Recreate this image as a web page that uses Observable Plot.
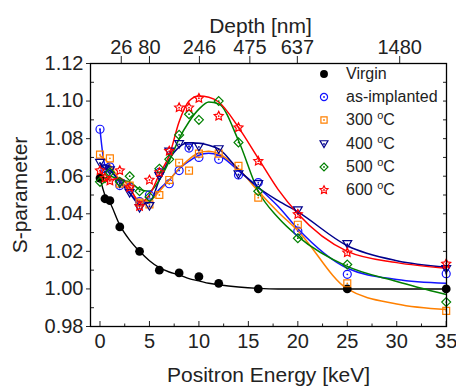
<!DOCTYPE html>
<html>
<head>
<meta charset="utf-8">
<script src="https://cdn.jsdelivr.net/npm/d3@7"></script>
<script src="https://cdn.jsdelivr.net/npm/@observablehq/plot@0.6"></script>
<style>
  body { margin: 0; background: #fff; }
  #wrap { position: relative; width: 456px; height: 390px; font-family: "Liberation Sans", Arial, sans-serif; }
  #legend { position: absolute; left: 316px; top: 62px; font-size: 16px; color: #222; }
  #legend .row { height: 23.3px; display: flex; align-items: center; white-space: nowrap; }
  #legend svg { width: 16px; height: 16px; margin-right: 14px; overflow: visible; }
  #legend sup { font-size: 11px; vertical-align: 6px; line-height: 0; }
  #chart svg [aria-label="x-axis label"] text, #chart svg [aria-label="y-axis label"] text { font-size: 21px; }
</style>
</head>
<body>
<div id="wrap"><div id="chart"></div><div id="legend"></div></div>
<script>
// ---- data ----
const virginEnergy = [0, 0.5, 1, 2, 4, 6, 8, 10, 12, 16, 25, 35];
const virginS      = [1.059, 1.048, 1.047, 1.033, 1.020, 1.010, 1.0085, 1.0065, 1.003, 1.000, 1.000, 1.000];

const energy        = [0, 0.5, 1, 2, 3, 4, 5, 6, 7, 8, 9, 10, 12, 14, 16, 20, 25, 35];
const asImplantedS  = [1.085, 1.064, 1.065, 1.055, 1.054, 1.0465, 1.050, 1.062, 1.056, 1.063, 1.075, 1.070, 1.069, 1.0607, 1.0566, 1.0308, 1.0078, 1.0081];
const t300S         = [1.0715, null, 1.0695, 1.056, 1.055, 1.046, 1.045, 1.050, 1.058, 1.0672, 1.063, 1.072, 1.072, 1.0655, 1.0486, 1.0342, 1.003, 0.9883];
const t400S         = [1.067, 1.064, 1.063, 1.056, 1.051, 1.043, 1.044, 1.060, 1.073, 1.077, 1.076, 1.0756, 1.0743, 1.061, 1.0557, 1.0418, 1.0238, 1.0105];
const t500S         = [1.057, 1.059, 1.062, 1.057, 1.060, 1.052, 1.049, 1.064, 1.069, 1.082, 1.093, 1.090, 1.100, 1.078, 1.052, 1.027, 1.013, 0.993];
const t600S         = [1.063, 1.059, 1.0575, 1.063, 1.054, 1.044, 1.058, 1.062, 1.0734, 1.0965, 1.0965, 1.1015, 1.092, 1.0859, 1.068, 1.0397, 1.0193, 1.0134];

// fitted curves as drawn in the reference
const fitEnergy      = [0, 0.5, 1, 2, 3, 4, 5, 6, 7, 8, 9, 10, 11, 12, 14, 16, 18, 20, 25, 30, 35];
const fitVirgin      = [1.059, 1.050, 1.046, 1.034, 1.026, 1.020, 1.015, 1.0113, 1.009, 1.0075, 1.0055, 1.0043, 1.003, 1.0022, 1.001, 1.0003, 1.0, 1.0, 1.0, 1.0, 1.0];
const fitAsImplanted = [1.085, 1.066, 1.064, 1.057, 1.051, 1.0465, 1.047, 1.053, 1.058, 1.064, 1.068, 1.0712, 1.0722, 1.0712, 1.063, 1.054, 1.044, 1.032, 1.011, 1.005, 1.003];
const fit300         = [1.071, 1.069, 1.066, 1.058, 1.053, 1.047, 1.047, 1.052, 1.058, 1.064, 1.069, 1.0725, 1.0733, 1.072, 1.064, 1.052, 1.041, 1.031, 1.0, 0.992, 0.989];
const fit400         = [1.067, 1.064, 1.063, 1.057, 1.051, 1.045, 1.046, 1.058, 1.069, 1.0755, 1.0778, 1.0775, 1.0765, 1.0745, 1.0635, 1.054, 1.047, 1.041, 1.023, 1.015, 1.0115];
const fit500         = [1.057, 1.059, 1.060, 1.058, 1.057, 1.053, 1.052, 1.058, 1.068, 1.080, 1.089, 1.0957, 1.0995, 1.0985, 1.079, 1.052, 1.038, 1.028, 1.012, 1.004, 0.997];
const fit600         = [1.063, 1.059, 1.058, 1.059, 1.054, 1.046, 1.050, 1.061, 1.071, 1.089, 1.100, 1.1027, 1.102, 1.0995, 1.086, 1.0695, 1.053, 1.040, 1.020, 1.014, 1.011];

const seriesNames  = ["Virgin", "as-implanted", "300 °C", "400 °C", "500 °C", "600 °C"];
const seriesColors = ["#000000", "#1414ff", "#ff8000", "#00008c", "#008000", "#ff0000"];

const yTicks      = [0.98, 1.00, 1.02, 1.04, 1.06, 1.08, 1.10, 1.12];
const yMinorTicks = [0.99, 1.01, 1.03, 1.05, 1.07, 1.09, 1.11];
const xTicks      = [0, 5, 10, 15, 20, 25, 30, 35];
const xMinorTicks = [2.5, 7.5, 12.5, 17.5, 22.5, 27.5, 32.5];
const depthEnergy = [2.15, 5, 10.05, 15.15, 19.95, 30.3];
const depthLabels = ["26", "80", "246", "475", "637", "1480"];

// ---- symbols ----
const triangleDown = {
  draw(ctx, size) {
    const s = Math.sqrt(size / 50);
    ctx.moveTo(-4.4 * s, -3.6 * s);
    ctx.lineTo(4.4 * s, -3.6 * s);
    ctx.lineTo(0, 3.9 * s);
    ctx.closePath();
  }
};
const starOpen = {
  draw(ctx, size) {
    const R = Math.sqrt(size / 50) * 4.7, r = R * 0.5;
    for (let i = 0; i < 10; i++) {
      const a = -Math.PI / 2 + i * Math.PI / 5;
      const rad = i % 2 ? r : R;
      const x = rad * Math.cos(a), y = rad * Math.sin(a);
      if (i) ctx.lineTo(x, y); else ctx.moveTo(x, y);
    }
    ctx.closePath();
  }
};
const seriesSymbols = [d3.symbolCircle, d3.symbolCircle, d3.symbolSquare, triangleDown, d3.symbolDiamond2, starOpen];
const seriesR       = [4.4, 4.0, 3.9, 4.0, 4.0, 4.0];

const pointSets = [
  virginEnergy.map((E, i) => ({E, S: virginS[i]})),
  ...[asImplantedS, t300S, t400S, t500S, t600S].map(arr =>
    energy.map((E, i) => ({E, S: arr[i]})).filter(d => d.S != null))
];
const fitSets = [fitVirgin, fitAsImplanted, fit300, fit400, fit500, fit600]
  .map(arr => fitEnergy.map((E, i) => ({E, S: arr[i]})));

const lineMarks = fitSets.map((data, k) =>
  Plot.line(data, {x: "E", y: "S", stroke: seriesColors[k], strokeWidth: k === 0 ? 1.4 : 1.5, curve: "monotone-x"}));

const dotMarks = [];
pointSets.forEach((data, k) => {
  if (k === 0) {
    dotMarks.push(Plot.dot(data, {x: "E", y: "S", r: seriesR[k], fill: "#000", stroke: "none"}));
  } else {
    dotMarks.push(Plot.dot(data, {x: "E", y: "S", r: seriesR[k], symbol: seriesSymbols[k], fill: "none", stroke: seriesColors[k], strokeWidth: 1.2}));
    dotMarks.push(Plot.dot(data, {x: "E", y: "S", r: 0.9, fill: seriesColors[k], stroke: "none"}));
  }
});

const fmt2 = d3.format(".2f");
const blank = () => "";

const chart = Plot.plot({
  width: 456,
  height: 390,
  marginLeft: 90,
  marginRight: 10,
  marginTop: 63,
  marginBottom: 64,
  x: {domain: [-0.96, 35.03]},
  y: {domain: [0.98, 1.12]},
  style: {fontFamily: '"Liberation Sans", Arial, sans-serif', fontSize: "20px", color: "#222", background: "#fff", overflow: "visible"},
  marks: [
    Plot.axisY({anchor: "left", ticks: yTicks, tickSize: 4, tickPadding: 3, tickFormat: fmt2, label: "S-parameter", labelArrow: "none", labelAnchor: "center", labelOffset: 78}),
    Plot.axisY({anchor: "left", ticks: yMinorTicks, tickSize: 4, dx: 4, tickFormat: blank, label: null}),
    Plot.axisY({anchor: "right", ticks: [...yTicks, ...yMinorTicks], tickSize: 4, dx: -4, tickFormat: blank, label: null}),
    Plot.axisX({anchor: "bottom", ticks: xTicks, tickSize: 0, tickPadding: 7, tickFormat: d => String(d), label: "Positron Energy [keV]", labelArrow: "none", labelAnchor: "center", labelOffset: 55}),
    Plot.axisX({anchor: "bottom", ticks: xTicks, tickSize: 5, dy: -5, tickFormat: blank, label: null}),
    Plot.axisX({anchor: "bottom", ticks: xMinorTicks, tickSize: 2.5, dy: -2.5, tickFormat: blank, label: null}),
    Plot.axisX({anchor: "top", ticks: depthEnergy, tickSize: 8, tickPadding: 2, tickFormat: d => depthLabels[depthEnergy.indexOf(d)], label: "Depth [nm]", labelArrow: "none", labelAnchor: "center", labelOffset: 45}),
    ...lineMarks,
    ...dotMarks,
    Plot.frame({stroke: "#000", strokeWidth: 1.3})
  ]
});
document.getElementById("chart").appendChild(chart);

// shift the depth title slightly left as in the reference
chart.querySelectorAll("text").forEach(t => {
  if (t.textContent === "Depth [nm]") {
    t.setAttribute("transform", (t.getAttribute("transform") || "") + " translate(-8,0)");
  }
});

// ---- legend ----
const legend = d3.select("#legend");
seriesNames.forEach((name, k) => {
  const row = legend.append("div").attr("class", "row");
  const svg = row.append("svg").attr("viewBox", "-8 -8 16 16");
  const size = Math.PI * seriesR[k] * seriesR[k] * 0.8;
  svg.append("path")
    .attr("d", d3.symbol(seriesSymbols[k], size)())
    .attr("fill", k === 0 ? "#000" : "none")
    .attr("stroke", k === 0 ? "none" : seriesColors[k])
    .attr("stroke-width", 1.2);
  if (k > 0) svg.append("circle").attr("r", 0.9).attr("fill", seriesColors[k]);
  const label = row.append("span");
  const m = name.match(/^(\d+) °C$/);
  if (m) {
    label.append("span").text(m[1] + " ");
    label.append("sup").text("o");
    label.append("span").text("C");
  } else {
    label.text(name);
  }
});
</script>
</body>
</html>
